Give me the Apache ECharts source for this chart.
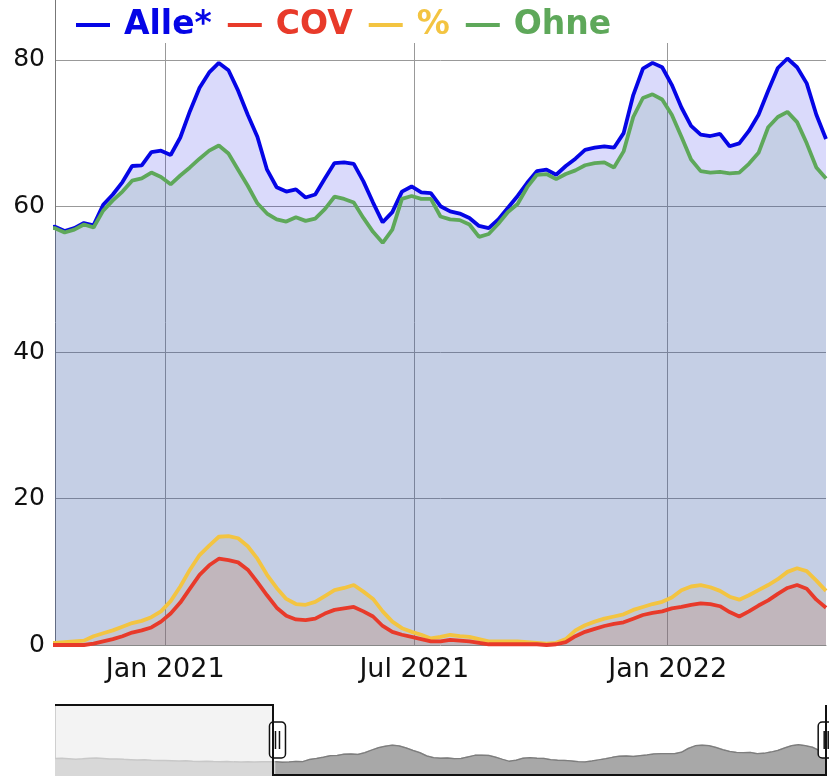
<!DOCTYPE html>
<html>
<head>
<meta charset="utf-8">
<script src="https://cdn.jsdelivr.net/npm/echarts@6/dist/echarts.min.js"></script>
<style>
html, body { margin: 0; padding: 0; background: #fff; }
#chart { width: 829px; height: 776px; }
</style>
</head>
<body>
<div id="chart"></div>
<script>
// weekly values, first week = 2020-03-03
var firstWeek = [2020, 2, 3]
var windowStart = [2020, 9, 13]  // what the slider shows
var tickDates = [[2021, 0, 1], [2021, 6, 1], [2022, 0, 1]]
var monthNames = ['Jan', 'Feb', 'Mar', 'Apr', 'May', 'Jun', 'Jul', 'Aug', 'Sep', 'Oct', 'Nov', 'Dec']

var alle = [
  61.5, 62.0, 61.4, 60.8, 61.2, 61.9, 62.2, 61.6, 60.9, 61.1,
  60.5, 60.1, 59.7, 59.9, 59.3, 58.9, 59.1, 58.7, 58.3, 58.6,
  58.1, 57.7, 58.0, 57.5, 57.3, 57.6, 57.1, 56.9, 57.2, 57.0,
  57.4, 57.1,
  57.2, 56.6, 57.0, 57.7, 57.4, 60.2, 61.6, 63.3, 65.5, 65.6,
  67.4, 67.6, 67.0, 69.4, 73.0, 76.2, 78.3, 79.6, 78.6, 75.8,
  72.5, 69.5, 65.0, 62.6, 62.0, 62.3, 61.2, 61.6, 63.8, 65.9,
  66.0, 65.8, 63.4, 60.5, 57.8, 59.2, 62.0, 62.7, 61.9, 61.8,
  60.0, 59.3, 59.0, 58.4, 57.3, 57.0, 58.2, 59.8, 61.4, 63.2,
  64.8, 65.0, 64.3, 65.5, 66.5, 67.7, 68.0, 68.2, 68.0, 70.0,
  75.2, 78.8, 79.6, 79.0, 76.6, 73.5, 71.0, 69.8, 69.6, 69.9,
  68.2, 68.6, 70.3, 72.5, 75.8, 78.9, 80.2, 79.0, 76.8, 72.5,
  69.2
]
var ohne = [
  61.4, 61.6, 60.2, 58.8, 58.9, 60.0, 60.9, 60.8, 60.4, 60.8,
  60.3, 60.0, 59.6, 59.9, 59.3, 58.9, 59.1, 58.7, 58.3, 58.6,
  58.1, 57.7, 58.0, 57.5, 57.3, 57.6, 57.1, 56.9, 57.2, 57.0,
  57.3, 57.0,
  57.0, 56.4, 56.8, 57.5, 57.1, 59.4, 60.8, 62.0, 63.5, 63.8,
  64.6, 64.0, 63.0, 64.2, 65.3, 66.5, 67.6, 68.3, 67.2, 65.0,
  62.8, 60.4, 59.0, 58.2, 57.9, 58.5, 58.0, 58.3, 59.6, 61.3,
  61.0, 60.5, 58.4, 56.5, 55.0, 56.8, 61.0, 61.4, 61.0, 61.0,
  58.6, 58.2, 58.1, 57.5, 55.8, 56.2, 57.6, 59.2, 60.3, 62.6,
  64.3, 64.4, 63.7, 64.4, 64.9, 65.6, 65.9, 66.0, 65.3, 67.5,
  72.2, 74.8, 75.3, 74.6, 72.5, 69.5, 66.4, 64.8, 64.6, 64.7,
  64.5, 64.6, 65.8, 67.3, 70.8, 72.2, 72.9, 71.5, 68.6, 65.3,
  63.8
]
var cov = [
  0.1, 0.4, 1.2, 2.0, 2.3, 1.9, 1.3, 0.8, 0.5, 0.3,
  0.2, 0.1, 0.1, 0, 0, 0, 0, 0, 0, 0,
  0, 0, 0, 0, 0, 0, 0, 0, 0, 0,
  0, 0,
  0, 0, 0, 0, 0.2, 0.5, 0.8, 1.2, 1.7, 2.0,
  2.4, 3.2, 4.3, 5.8, 7.7, 9.6, 10.9, 11.8, 11.6, 11.3,
  10.3, 8.6, 6.8, 5.1, 4.0, 3.5, 3.4, 3.6, 4.3, 4.8,
  5.0, 5.2, 4.6, 3.9, 2.6, 1.8, 1.4, 1.1, 0.8, 0.5,
  0.5, 0.7, 0.6, 0.5, 0.3, 0.1, 0.1, 0.1, 0.1, 0.1,
  0.1, 0, 0.1, 0.4, 1.2, 1.8, 2.2, 2.6, 2.9, 3.1,
  3.6, 4.1, 4.4, 4.6, 5.0, 5.2, 5.5, 5.7, 5.6, 5.3,
  4.5, 3.9, 4.6, 5.4, 6.1, 7.0, 7.8, 8.2, 7.7, 6.2,
  5.1
]
var prozent = [
  0.2, 0.6, 2.0, 3.3, 3.8, 3.1, 2.1, 1.3, 0.8, 0.5,
  0.3, 0.2, 0.2, 0.2, 0.1, 0.2, 0.1, 0.2, 0.2, 0.1,
  0.2, 0.2, 0.1, 0.2, 0.2, 0.2, 0.1, 0.2, 0.2, 0.3,
  0.2, 0.3,
  0.3, 0.4, 0.5, 0.6, 1.2, 1.6, 2.0, 2.5, 3.0, 3.3,
  3.8, 4.6, 6.0, 8.0, 10.3, 12.3, 13.6, 14.8, 14.9, 14.6,
  13.5, 11.8, 9.6, 7.8, 6.3, 5.6, 5.5, 5.9, 6.7, 7.5,
  7.8, 8.2, 7.3, 6.3, 4.6, 3.2, 2.3, 1.8, 1.4, 0.9,
  1.1, 1.4, 1.2, 1.1, 0.8, 0.5, 0.5, 0.5, 0.5, 0.4,
  0.3, 0.2, 0.3, 0.8, 2.0, 2.7, 3.2, 3.6, 3.9, 4.2,
  4.8, 5.2, 5.6, 5.9, 6.5, 7.5, 8.0, 8.2, 7.9, 7.4,
  6.6, 6.2, 6.8, 7.5, 8.2, 9.0, 10.0, 10.5, 10.1, 8.8,
  7.4
]

var farben = {
  'Alle*': '#0505e6',
  'COV': '#e83a2a',
  '%': '#f3c441',
  'Ohne': '#5ea85a'
}

// x-Werte (Wochen) als Zeitstempel
var dates = alle.map(function(v, i) {
  return new Date(firstWeek[0], firstWeek[1], firstWeek[2] + 7 * i).getTime()
})
var tickValues = tickDates.map(function(d) { return new Date(d[0], d[1], d[2]).getTime() })
var startTs = new Date(windowStart[0], windowStart[1], windowStart[2]).getTime()

function pairs(arr) {
  return arr.map(function(v, i) { return [dates[i], v] })
}
// Flaeche ohne Linie (z steuert die Reihenfolge der Flaechen)
function fillSeries(name, arr, z) {
  return {
    name: name,
    type: 'line',
    z: z,
    data: pairs(arr),
    symbol: 'none',
    clip: true,
    lineStyle: { width: 0, opacity: 0 },
    itemStyle: { color: farben[name] },
    areaStyle: { color: farben[name], opacity: 0.15 },
    emphasis: { disabled: true }
  }
}
// Linie ueber allen Flaechen
function lineSeries(name, arr) {
  return {
    name: name,
    type: 'line',
    z: 2,
    data: pairs(arr),
    symbol: 'none',
    clip: true,
    lineStyle: { color: farben[name], width: 3.8 },
    itemStyle: { color: farben[name] },
    emphasis: { disabled: true }
  }
}
// kleine Vorschau im Range-Selector
function miniSeries(points, line, area) {
  return {
    name: 'mini',
    type: 'line',
    xAxisIndex: 1,
    yAxisIndex: 1,
    z: 2,
    data: points,
    symbol: 'none',
    silent: true,
    lineStyle: { color: line, width: 1.5 },
    areaStyle: { color: area, opacity: 1 },
    emphasis: { disabled: true }
  }
}

var myChart = echarts.init(document.getElementById('chart'))
var option = {
  backgroundColor: '#fff',
  animation: false,
  grid: [
    { left: 55, right: 3, top: 0, bottom: 131 },
    { left: 55, right: 3, top: 705, height: 71 }
  ],
  legend: {
    left: 58,
    top: 6,
    padding: [0, 0, 0, 18],
    itemGap: 16,
    itemWidth: 34,
    itemHeight: 4,
    icon: 'rect',
    selectedMode: false,
    data: ['Alle*', 'COV', '%', 'Ohne'].map(function(n) {
      return { name: n, textStyle: { color: farben[n] } }
    }),
    textStyle: {
      fontFamily: 'DejaVu Sans',
      fontWeight: 'bold',
      fontSize: 33,
      lineHeight: 38,
      padding: [0, 0, 0, 9]
    }
  },
  xAxis: [{
    type: 'value',
    min: dates[0],
    max: dates[dates.length - 1],
    axisLine: { show: true, onZero: false, lineStyle: { color: '#888', width: 1 } },
    axisTick: { show: false, customValues: tickValues },
    axisLabel: {
      customValues: tickValues,
      formatter: function(v) {
        var d = new Date(v)
        return monthNames[d.getMonth()] + ' ' + d.getFullYear()
      },
      fontFamily: 'DejaVu Sans',
      fontSize: 27,
      color: '#111',
      margin: 11
    },
    splitLine: { show: true, lineStyle: { color: '#999', width: 1 } }
  }, {
    type: 'value',
    gridIndex: 1,
    min: dates[0],
    max: dates[dates.length - 1],
    show: false
  }],
  yAxis: [{
    type: 'value',
    min: 0,
    max: 88.2,
    interval: 20,
    axisLine: { show: true, lineStyle: { color: '#777', width: 1 } },
    axisTick: { show: false },
    axisLabel: {
      fontFamily: 'DejaVu Sans',
      fontSize: 25,
      color: '#111',
      margin: 10,
      showMaxLabel: false
    },
    splitLine: { show: true, showMaxLine: false, showMinLine: false, lineStyle: { color: '#999', width: 1 } }
  }, {
    type: 'value',
    gridIndex: 1,
    min: 38,
    max: 134,
    show: false
  }],
  dataZoom: [{
    type: 'slider',
    xAxisIndex: 0,
    filterMode: 'none',
    startValue: startTs,
    endValue: dates[dates.length - 1],
    left: 55,
    right: 3,
    top: 705,
    height: 70,
    backgroundColor: 'transparent',
    borderColor: 'transparent',
    fillerColor: 'transparent',
    showDataShadow: false,
    showDetail: false,
    brushSelect: false,
    moveHandleSize: 0,
    handleIcon: 'path://M4,0 H12 A4,4 0 0 1 16,4 V32 A4,4 0 0 1 12,36 H4 A4,4 0 0 1 0,32 V4 A4,4 0 0 1 4,0 Z M6,9 V27 M10,9 V27',
    handleSize: 36,
    handleStyle: { color: '#fff', borderColor: '#111', borderWidth: 1.5 },
    emphasis: {
      handleStyle: { color: '#fff', borderColor: '#111', borderWidth: 1.5 }
    }
  }],
  graphic: [
    // weisser Streifen hinter der Legende
    { type: 'rect', z: 3, silent: true, shape: { x: 57, y: 0, width: 772, height: 43 }, style: { fill: '#fff' } },
    // nicht gewaehlter Bereich im Slider
    { type: 'rect', z: 1, silent: true, shape: { x: 55.5, y: 705.5, width: 217.5, height: 71 }, style: { fill: '#f3f3f3', stroke: '#cfcfcf', lineWidth: 1 } },
    { type: 'polyline', z: 10, silent: true, shape: { points: [[55, 705], [273, 705], [273, 775], [826, 775], [826, 705]] }, style: { stroke: '#111', lineWidth: 2, fill: null } }
  ],
  series: [
    fillSeries('Alle*', alle, 1.8),
    fillSeries('COV', cov, 1.1),
    fillSeries('%', prozent, 1.2),
    fillSeries('Ohne', ohne, 1.3),
    lineSeries('Alle*', alle),
    lineSeries('Ohne', ohne),
    lineSeries('%', prozent),
    lineSeries('COV', cov),
    miniSeries(pairs(alle), '#c8c8c8', '#d8d8d8'),
    miniSeries(pairs(alle).filter(function(p) { return p[0] >= startTs }), '#7e7e7e', '#a8a8a8')
  ]
}
myChart.setOption(option)
</script>
</body>
</html>
